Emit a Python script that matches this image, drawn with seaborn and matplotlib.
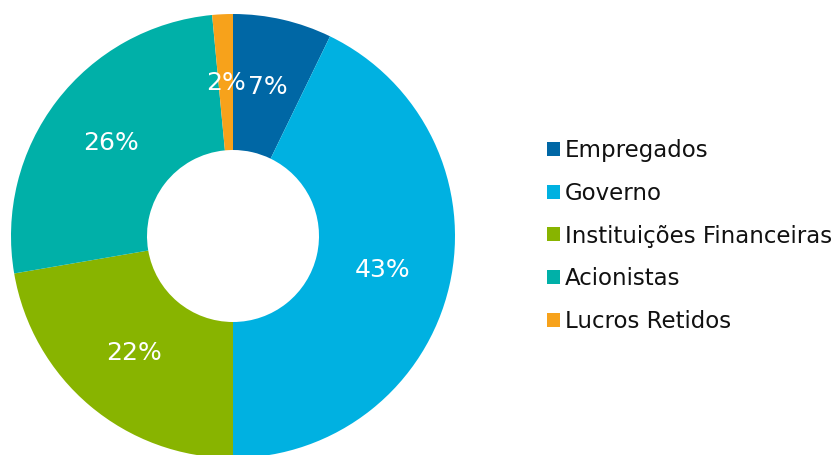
import matplotlib
matplotlib.use("Agg")
import matplotlib.pyplot as plt
import seaborn as sns
import numpy as np

# Distribuição do valor adicionado
categorias = ["Empregados", "Governo", "Instituições Financeiras", "Acionistas", "Lucros Retidos"]
valores = [7.2, 42.8, 22.3, 26.2, 1.5]
rotulos = ["7%", "43%", "22%", "26%", "2%"]
cores = ["#0067A5", "#00B1E1", "#88B400", "#00B0A8", "#F7A21B"]

sns.set_style("white")
plt.rcParams["font.family"] = ["DejaVu Sans"]

fig = plt.figure(figsize=(8.35, 4.55), dpi=100)
ax = fig.add_axes([11 / 835, -3 / 455, 444 / 835, 444 / 455])

wedges, _ = ax.pie(valores, colors=cores, startangle=90, counterclock=False,
                   radius=1, wedgeprops=dict(width=1 - 86 / 222, linewidth=0))
ax.set_xlim(-1, 1)
ax.set_ylim(-1, 1)

# rótulos de percentagem dentro do anel
acum = np.cumsum([0] + valores[:-1])
for v, a, txt in zip(valores, acum, rotulos):
    ang = np.deg2rad(90 - (a + v / 2) * 3.6)
    r = 0.69
    ax.text(r * np.cos(ang), r * np.sin(ang), txt, color="white",
            fontsize=18, ha="center", va="center")

fig.legend(wedges, categorias, loc="center left",
           bbox_to_anchor=(547 / 835, 1 - 236 / 455), frameon=False,
           fontsize=16.5, handlelength=0.56, handleheight=0.56,
           handletextpad=0.22, labelspacing=0.86, borderpad=0, borderaxespad=0,
           labelcolor="#111111")

fig.savefig("out.png", dpi=100)
